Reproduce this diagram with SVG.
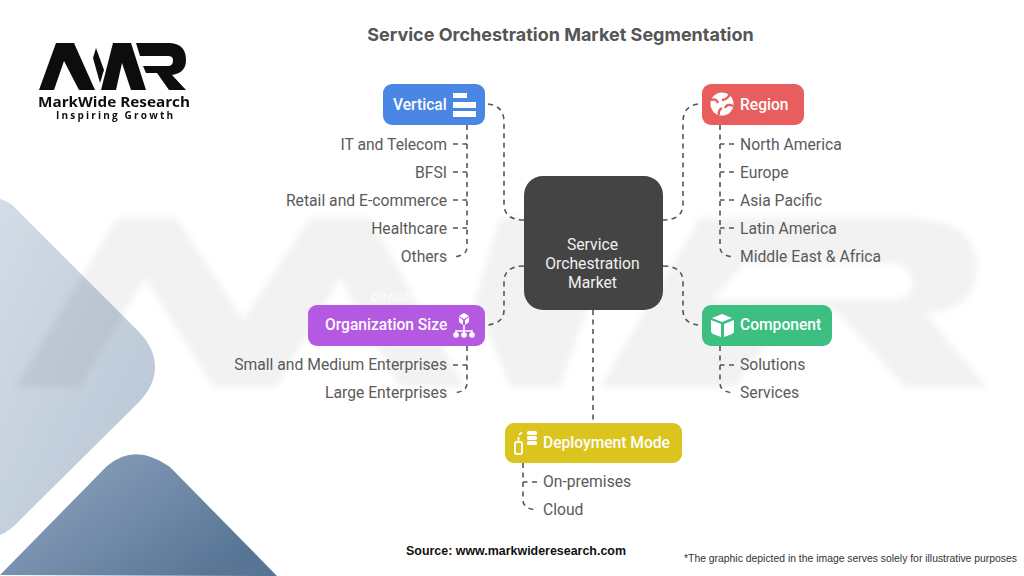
<svg xmlns="http://www.w3.org/2000/svg" width="1024" height="576" viewBox="0 0 1024 576">
<defs>
<linearGradient id="gl" x1="0" y1="0" x2="1" y2="1"><stop offset="0" stop-color="#d3dce6"/><stop offset="1" stop-color="#b6c4d4"/></linearGradient>
<linearGradient id="gd" x1="0" y1="0" x2="1" y2="0.6"><stop offset="0" stop-color="#94a8c2"/><stop offset="1" stop-color="#587596"/></linearGradient>
<filter id="soft" x="-5%" y="-5%" width="110%" height="110%"><feGaussianBlur stdDeviation="3"/></filter>
<filter id="s1" x="-5%" y="-5%" width="110%" height="110%"><feGaussianBlur stdDeviation="0.4"/></filter>
</defs>
<style>
text{font-family:"Roboto","Inter","Liberation Sans",sans-serif}
.item{font-size:15.7px;fill:#5a5a5a}
.end{text-anchor:end}
.hd{font-size:15.6px;font-weight:500;fill:#fdfdfd}
.box{stroke:none}
.c{fill:none;stroke:#555;stroke-width:1.6;stroke-dasharray:5 4.5}
.ic{fill:#fff}
</style>
<rect width="1024" height="576" fill="#fff"/>
<g id="background">
<path d="M0,199 Q10,201 20,213 L138,331 Q155,348 155,367 Q155,386 138,403 L20,520 Q10,531 0,535 Z" fill="url(#gl)"/>
<path d="M0,575 L107,466 Q135,442 170,467 L277,576 Z" fill="url(#gd)"/>
<g filter="url(#soft)" fill="#000" fill-opacity="0.05">
<path d="M15,387 L117,218 H177 L243,320 L310,218 H370 L465,387 H400 L340,278 L277,387 H213 L145,278 L80,387 Z"/>
<path d="M475,300 L500,218 H560 L590,300 L560,387 H510 Z"/>
<path d="M600,387 L700,218 H905 Q977,218 977,267 Q977,310 925,313 L987,387 H905 L835,310 H790 L735,387 Z M737,272 L712,300 H890 Q915,300 912,280 Q908,263 890,263 H745 Z" fill-rule="evenodd"/>
</g>
</g>
<g id="logo" filter="url(#s1)">
<path fill="#0d0d0d" d="M39,90 L56,43 H74 L95,90 H79 L64,61 L54,90 Z"/>
<path fill="#0d0d0d" d="M96,48 L104,70 L100,83 L93,58 Z"/>
<path fill="#0d0d0d" d="M101,90 L113,43 H131 L146,90 H131 L122,63 L116,90 Z"/>
<path fill="#0d0d0d" d="M136,43 H170 Q186,44 186,60 Q186,73 172,75 L186,90 H169 L157,73 H146 L143,66 H168 Q173,66 173,60 Q173,56 168,56 H140 Z"/>
<text x="38" y="107" textLength="152" lengthAdjust="spacingAndGlyphs" style="font-family:'Open Sans','Liberation Sans',sans-serif;font-size:14.5px;font-weight:700;fill:#111">MarkWide Research</text>
<text x="56" y="119" textLength="117" style="font-family:'Open Sans','Liberation Sans',sans-serif;font-size:10px;font-weight:700;fill:#111">Inspiring Growth</text>
</g>
<text id="title" x="560.5" y="41" text-anchor="middle" style="font-family:Inter,sans-serif;font-size:18px;font-weight:700;fill:#555">Service Orchestration Market Segmentation</text>
<g id="connectors">
<path class="c" d="M488,104 Q504,106 504,122 V204 Q504,220 524,220"/>
<path class="c" d="M698,104 Q683,106 683,122 V204 Q683,220 663,220"/>
<path class="c" d="M524,266 Q504,266 504,282 V310 Q504,323 488,325"/>
<path class="c" d="M663,266 Q683,266 683,282 V310 Q683,323 698,325"/>
<path class="c" d="M593,310 V423"/>
<path class="c" d="M467,125 V247 Q467,256 453,257"/>
<path class="c" d="M453,144 H467 M453,172 H467 M453,200 H467 M453,228 H467"/>
<path class="c" d="M720,125 V247 Q720,256 734,257"/>
<path class="c" d="M734,144 H720 M734,172 H720 M734,200 H720 M734,228 H720"/>
<path class="c" d="M467,346 V383 Q467,392 453,393"/>
<path class="c" d="M453,365 H467"/>
<path class="c" d="M720,346 V383 Q720,392 734,393"/>
<path class="c" d="M734,365 H720"/>
<path class="c" d="M523,463 V500 Q523,509 537,510"/>
<path class="c" d="M537,482 H523"/>
</g>
<g id="center"><rect class="box" x="524" y="176" width="139" height="134" rx="19" fill="#444"/>
<g text-anchor="middle" style="font-size:15.7px;font-weight:400;fill:#f0f0f0"><text x="592.5" y="250">Service</text><text x="592.5" y="269">Orchestration</text><text x="592.5" y="288">Market</text></g></g>
<g id="vertical"><rect class="box" x="383" y="84" width="102" height="41" rx="9" fill="#4a86e4"/>
<text class="hd" x="393" y="110">Vertical</text>
<rect class="ic" x="453" y="93" width="14" height="5"/><rect class="ic" x="453" y="102" width="23" height="6"/><rect class="ic" x="453" y="111" width="23" height="6"/>
<text class="item end" x="447" y="149.500">IT and Telecom</text><text class="item end" x="447" y="177.500">BFSI</text><text class="item end" x="447" y="205.500">Retail and E-commerce</text><text class="item end" x="447" y="233.500">Healthcare</text><text class="item end" x="447" y="262">Others</text></g>
<g id="region"><rect class="box" x="702" y="84" width="102" height="41" rx="9" fill="#e85d5d"/>
<circle class="ic" cx="722" cy="104" r="11.5"/>
<path d="M711,100 Q716,98 718,103 M730,94 Q727,100 722,100 M733,106 Q727,103 725,108 M719,115 Q718,110 722,108" fill="none" stroke="#e85d5d" stroke-width="2.4"/>
<text class="hd" x="740" y="110">Region</text>
<text class="item" x="740" y="149.500">North America</text><text class="item" x="740" y="177.500">Europe</text><text class="item" x="740" y="205.500">Asia Pacific</text><text class="item" x="740" y="233.500">Latin America</text><text class="item" x="740" y="262">Middle East &amp; Africa</text></g>
<g id="organization-size"><rect class="box" x="308" y="305" width="177" height="41" rx="9" fill="#b558e2"/>
<text class="hd" x="325" y="330">Organization Size</text>
<path class="ic" d="M464,313 L469,316 L464,319 L459,316 Z M459,317 L463,320 V325 L459,322 Z M469,317 L465,320 V325 L469,322 Z"/>
<path d="M464,325 V335 M456,335 V331 H472 V335" fill="none" stroke="#fff" stroke-width="1.6"/>
<circle class="ic" cx="456" cy="335" r="2.8"/><circle class="ic" cx="464" cy="335" r="2.8"/><circle class="ic" cx="472" cy="335" r="2.8"/>
<text class="item end" x="447" y="370">Small and Medium Enterprises</text><text class="item end" x="447" y="398">Large Enterprises</text></g>
<g id="component"><rect class="box" x="702" y="305" width="130" height="41" rx="9" fill="#3dbf82"/>
<path class="ic" d="M722,314 L732,318 L722,322 L712,318 Z M711,320 L721,324 V337 L713,334 Q711,333 711,331 Z M734,320 L724,324 V337 L732,334 Q734,333 734,331 Z"/>
<text class="hd" x="740" y="330">Component</text>
<text class="item" x="740" y="370">Solutions</text><text class="item" x="740" y="398">Services</text></g>
<g id="deployment-mode"><rect class="box" x="505" y="423" width="177" height="40" rx="9" fill="#dcc41e"/>
<rect x="515" y="442" width="7" height="12" rx="1.5" fill="none" stroke="#fff" stroke-width="1.8"/>
<path d="M518.500,441 V437 Q519,433 524,432" fill="none" stroke="#fff" stroke-width="1.6" stroke-dasharray="4 2"/>
<rect class="ic" x="527" y="431" width="10" height="4" rx="1.5"/><rect class="ic" x="527" y="436" width="10" height="4" rx="1.5"/><rect class="ic" x="527" y="441" width="10" height="4" rx="1.5"/>
<text class="hd" x="543" y="447.500">Deployment Mode</text>
<text class="item" x="543" y="487">On-premises</text><text class="item" x="543" y="515">Cloud</text></g>
<text id="source" x="406" y="555" textLength="220" lengthAdjust="spacingAndGlyphs" style="font-family:'Liberation Sans',sans-serif;font-size:13px;font-weight:700;fill:#111">Source: www.markwideresearch.com</text>
<text id="note" x="684" y="562" textLength="333" lengthAdjust="spacingAndGlyphs" style="font-family:'Liberation Sans',sans-serif;font-size:10.6px;fill:#333">*The graphic depicted in the image serves solely for illustrative purposes</text>
<text id="faint" x="371" y="301" style="font-family:'Liberation Sans',sans-serif;font-size:11px;font-weight:700;fill:#fff;fill-opacity:.7">DRAGON</text>
</svg>
